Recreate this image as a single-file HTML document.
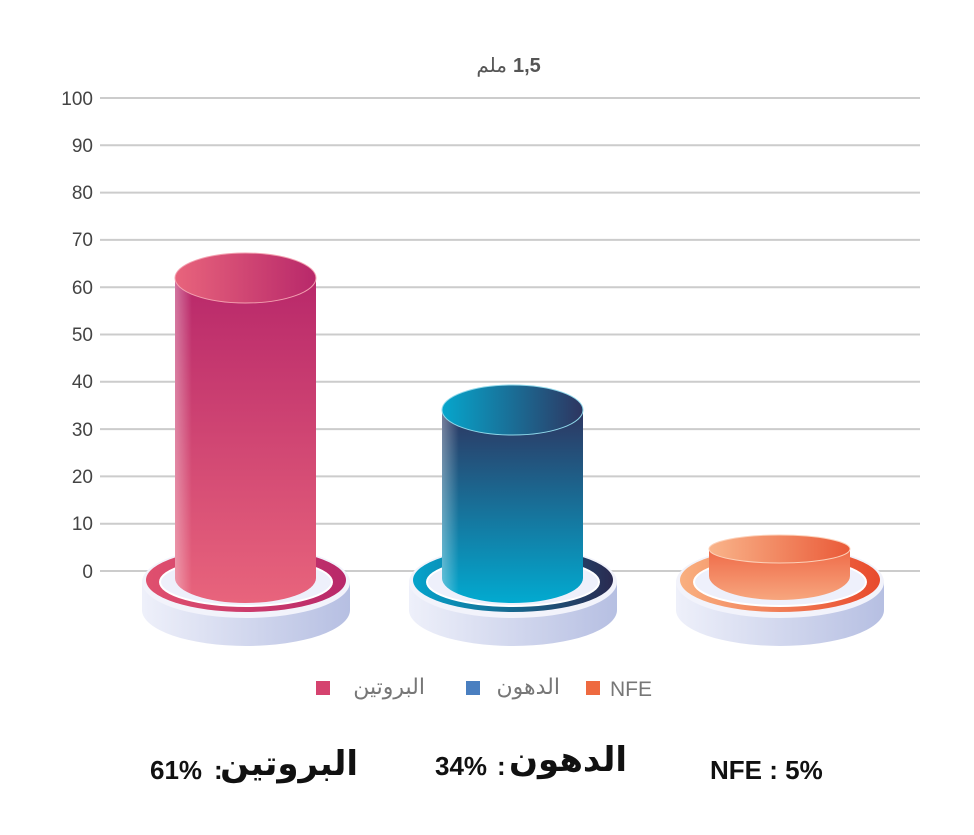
<!DOCTYPE html>
<html><head><meta charset="utf-8"><style>
body{margin:0;background:#fff;width:974px;height:830px;overflow:hidden}
text{font-family:"Liberation Sans","DejaVu Sans",sans-serif}
</style></head><body>
<svg width="974" height="830" viewBox="0 0 974 830" xmlns="http://www.w3.org/2000/svg">
<defs>
<linearGradient id="pk" x1="0" y1="0" x2="0" y2="1"><stop offset="0" stop-color="#b8286a"/><stop offset="1" stop-color="#e8647c"/></linearGradient>
<linearGradient id="pkt" x1="0" y1="0" x2="1" y2="0"><stop offset="0" stop-color="#e8647c"/><stop offset="1" stop-color="#b8286a"/></linearGradient>
<linearGradient id="bl" x1="0" y1="0" x2="0" y2="1"><stop offset="0" stop-color="#2e3560"/><stop offset="1" stop-color="#02aad0"/></linearGradient>
<linearGradient id="blt" x1="0" y1="0" x2="1" y2="0"><stop offset="0" stop-color="#06a6cc"/><stop offset="1" stop-color="#2e3560"/></linearGradient>
<linearGradient id="or" x1="0" y1="0" x2="0" y2="1"><stop offset="0" stop-color="#ef6a48"/><stop offset="1" stop-color="#f7a67e"/></linearGradient>
<linearGradient id="ort" x1="0" y1="0" x2="1" y2="0"><stop offset="0" stop-color="#f9b48a"/><stop offset="1" stop-color="#ea5a38"/></linearGradient>
<linearGradient id="hl" x1="0" y1="0" x2="1" y2="0"><stop offset="0" stop-color="#fff" stop-opacity=".35"/><stop offset=".12" stop-color="#fff" stop-opacity="0"/><stop offset="1" stop-color="#fff" stop-opacity="0"/></linearGradient>
<linearGradient id="base" x1="0" y1="0" x2="1" y2="0"><stop offset="0" stop-color="#eef0fa"/><stop offset="1" stop-color="#b6bfe2"/></linearGradient>
<linearGradient id="rpk" x1="0" y1="0" x2="1" y2="0"><stop offset="0" stop-color="#e0506e"/><stop offset="1" stop-color="#b8286a"/></linearGradient>
<linearGradient id="rbl" x1="0" y1="0" x2="1" y2="0"><stop offset="0" stop-color="#04a4cc"/><stop offset="1" stop-color="#2a2a50"/></linearGradient>
<linearGradient id="ror" x1="0" y1="0" x2="1" y2="0"><stop offset="0" stop-color="#f9b080"/><stop offset="1" stop-color="#e84a2c"/></linearGradient>
</defs>
<text x="507" y="72" text-anchor="end" font-size="20" fill="#555">ملم</text>
<text x="513" y="72" font-size="20" font-weight="bold" fill="#555">1,5</text>
<g stroke="#cccccc" stroke-width="2">
<line x1="100" y1="98" x2="920" y2="98"/><line x1="100" y1="145.3" x2="920" y2="145.3"/><line x1="100" y1="192.6" x2="920" y2="192.6"/><line x1="100" y1="239.9" x2="920" y2="239.9"/><line x1="100" y1="287.2" x2="920" y2="287.2"/><line x1="100" y1="334.5" x2="920" y2="334.5"/><line x1="100" y1="381.8" x2="920" y2="381.8"/><line x1="100" y1="429.1" x2="920" y2="429.1"/><line x1="100" y1="476.4" x2="920" y2="476.4"/><line x1="100" y1="523.7" x2="920" y2="523.7"/><line x1="100" y1="571" x2="920" y2="571"/>
</g>
<g font-size="19" fill="#444" text-anchor="end">
<text x="93" y="105">100</text><text x="93" y="152">90</text><text x="93" y="199">80</text><text x="93" y="246">70</text><text x="93" y="294">60</text><text x="93" y="341">50</text><text x="93" y="388">40</text><text x="93" y="436">30</text><text x="93" y="483">20</text><text x="93" y="530">10</text><text x="93" y="578">0</text>
</g>
<g>
<path d="M142 582 v28 a104 36 0 0 0 208 0 v-28 z" fill="url(#base)"/><ellipse cx="246" cy="582" rx="104" ry="36" fill="#f2f3fb"/>
<ellipse cx="246" cy="580" rx="100" ry="32" fill="url(#rpk)"/><ellipse cx="246" cy="582" rx="86" ry="24" fill="#eef0fb" stroke="#fff" stroke-width="2"/>
</g>
<g>
<path d="M409 582 v28 a104 36 0 0 0 208 0 v-28 z" fill="url(#base)"/><ellipse cx="513" cy="582" rx="104" ry="36" fill="#f2f3fb"/>
<ellipse cx="513" cy="580" rx="100" ry="32" fill="url(#rbl)"/><ellipse cx="513" cy="582" rx="86" ry="24" fill="#eef0fb" stroke="#fff" stroke-width="2"/>
</g>
<g>
<path d="M676 582 v28 a104 36 0 0 0 208 0 v-28 z" fill="url(#base)"/><ellipse cx="780" cy="582" rx="104" ry="36" fill="#f2f3fb"/>
<ellipse cx="780" cy="580" rx="100" ry="32" fill="url(#ror)"/><ellipse cx="780" cy="582" rx="86" ry="24" fill="#eef0fb" stroke="#fff" stroke-width="2"/>
</g>
<path d="M175 278 V578 A70.5 25 0 0 0 316 578 V278 Z" fill="url(#pk)"/>
<path d="M175 278 V578 A70.5 25 0 0 0 316 578 V278 Z" fill="url(#hl)"/>
<ellipse cx="245.5" cy="278" rx="70.5" ry="25" fill="url(#pkt)" stroke="#f3a0b0" stroke-width="1"/>
<path d="M442 410 V578 A70.5 25 0 0 0 583 578 V410 Z" fill="url(#bl)"/>
<path d="M442 410 V578 A70.5 25 0 0 0 583 578 V410 Z" fill="url(#hl)"/>
<ellipse cx="512.5" cy="410" rx="70.5" ry="25" fill="url(#blt)" stroke="#8fd8ea" stroke-width="1"/>
<path d="M709 549 V576 A70.5 24 0 0 0 850 576 V549 Z" fill="url(#or)"/>
<ellipse cx="779.5" cy="549" rx="70.5" ry="14" fill="url(#ort)" stroke="#fcd0b8" stroke-width="1"/>
<g font-size="22" fill="#777">
<rect x="316" y="681" width="14" height="14" fill="#d5436f"/><text x="425" y="694" text-anchor="end" font-family="Liberation Serif,DejaVu Serif,serif">البروتين</text>
<rect x="466" y="681" width="14" height="14" fill="#4a7fc0"/><text x="560" y="694" text-anchor="end" font-family="Liberation Serif,DejaVu Serif,serif">الدهون</text>
<rect x="586" y="681" width="14" height="14" fill="#ee6a40"/><text x="610" y="696" font-size="21">NFE</text>
</g>
<g font-size="26" font-weight="bold" fill="#111">
<text x="150" y="779">61%</text><text x="214" y="779">:</text><text x="358" y="775" text-anchor="end" font-family="Liberation Serif,DejaVu Serif,serif" font-size="34">البروتين</text>
<text x="435" y="775">34%</text><text x="497" y="775">:</text><text x="627" y="771" text-anchor="end" font-family="Liberation Serif,DejaVu Serif,serif" font-size="34">الدهون</text>
<text x="710" y="779">NFE : 5%</text>
</g>
</svg>
</body></html>
